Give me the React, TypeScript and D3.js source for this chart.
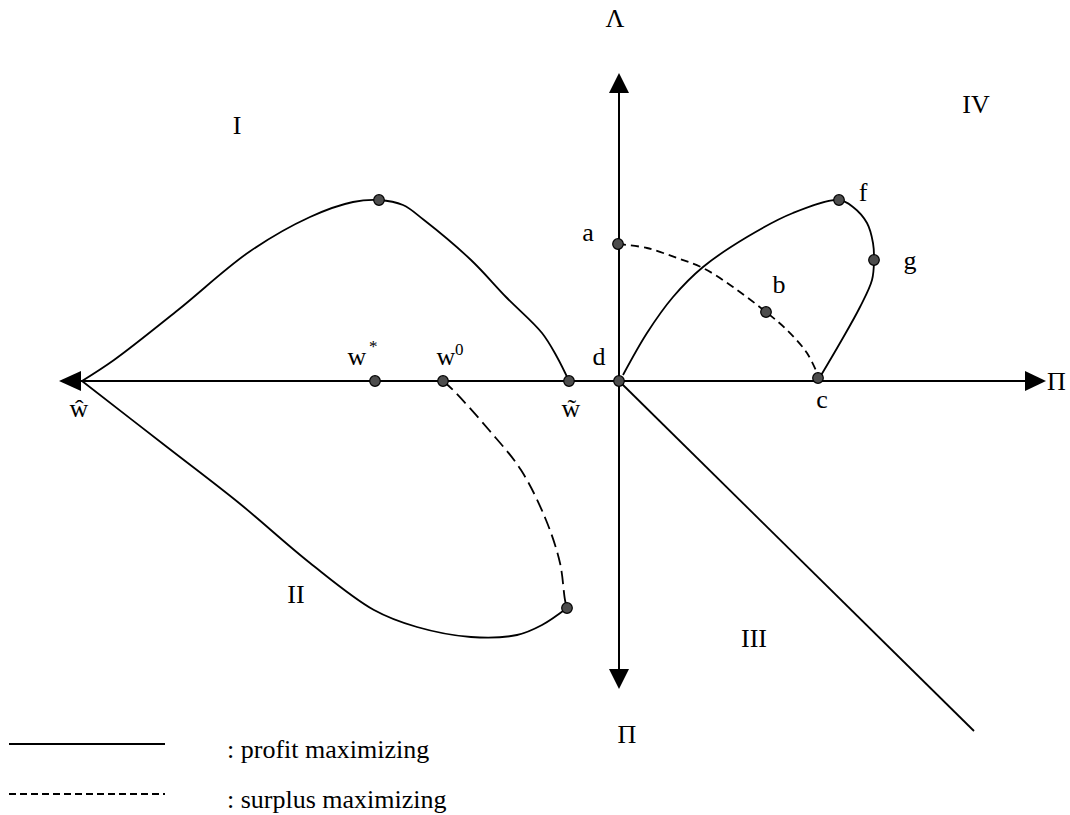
import React from "react";
import * as d3 from "d3";

// Diagram coordinates: origin at the intersection of the axes, y positive upward.
type P = [number, number];

const profitQuadI: P[] = [
  [-537, 0], [-505, 21], [-441, 71], [-370, 129], [-309, 164], [-266, 179], [-240, 181],
  [-216, 176], [-195, 161], [-148, 121], [-113, 84], [-77, 48], [-62, 24], [-50, 0],
];
const profitQuadII: P[] = [
  [-537, 0], [-452, -66], [-380, -122], [-309, -182], [-245, -229], [-202, -246],
  [-148, -256], [-102, -254], [-77, -244], [-52, -227],
];
const surplusQuadII: P[] = [
  [-176, 0], [-166, -9], [-130, -49], [-98, -89], [-73, -139], [-59, -182], [-54, -219], [-52, -227],
];
const profitQuadIV: P[] = [
  [4, 6], [28, 48], [54, 84], [84, 114], [128, 144], [174, 168], [220, 181], [234, 174],
  [248, 158], [254, 138], [255, 121], [253, 101], [241, 74], [221, 38], [201, 4],
];
const surplusQuadIV: P[] = [
  [-1, 137], [28, 133], [58, 123], [84, 113], [114, 94], [147, 69], [168, 51], [188, 28], [199, 6],
];
const profitQuadIII: P[] = [[0, 0], [355, -350]];

const markers: P[] = [
  [-240, 181], [-244, 0], [-176, 0], [-50, 0], [-52, -227], [0, 0],
  [-1, 137], [220, 181], [255, 121], [147, 69], [199, 3],
];

const labels: { t: string; x: number; y: number; anchor?: string }[] = [
  { t: "Λ", x: -4, y: 354 },
  { t: "I", x: -382, y: 247 },
  { t: "IV", x: 357, y: 268 },
  { t: "a", x: -31, y: 140 },
  { t: "f", x: 244, y: 180 },
  { t: "g", x: 291, y: 112 },
  { t: "b", x: 160, y: 88 },
  { t: "d", x: -20, y: 16 },
  { t: "c", x: 203, y: -27 },
  { t: "Π", x: 428, y: -9, anchor: "start" },
  { t: "\u0175", x: -540, y: -36 },
  { t: "w\u0303", x: -48, y: -36 },
  { t: "II", x: -323, y: -222 },
  { t: "III", x: 135, y: -266 },
  { t: "Π", x: 8, y: -362 },
];

const supLabels: { base: string; sup: string; x: number; y: number; dx: number; dy: number }[] = [
  { base: "w", sup: "*", x: -262, y: 16, dx: 12, dy: -13 },
  { base: "w", sup: "0", x: -173, y: 16, dx: 9, dy: -10 },
];

const legendItems = [
  { text: ": profit maximizing", dash: "none" },
  { text: ": surplus maximizing", dash: "7,4" },
];

const W = 1070;
const H = 815;

export default function App() {
  const x = d3.scaleLinear().domain([-560, 427]).range([59, 1046]);
  const y = d3.scaleLinear().domain([-308, 308]).range([689, 73]);
  const line = d3
    .line<P>()
    .x((d) => x(d[0]))
    .y((d) => y(d[1]))
    .curve(d3.curveCatmullRom.alpha(0.5));
  const straight = d3.line<P>().x((d) => x(d[0])).y((d) => y(d[1]));

  const x0 = x(0);
  const y0 = y(0);
  const font = "'Liberation Serif', 'Times New Roman', serif";
  const stroke = "#000";

  const arrowL = `M${x(-560)},${y0} L${x(-538)},${y0 - 10} L${x(-538)},${y0 + 10} Z`;
  const arrowR = `M${x(427)},${y0} L${x(406)},${y0 - 10} L${x(406)},${y0 + 10} Z`;
  const arrowU = `M${x0},${y(308)} L${x0 - 10},${y(288)} L${x0 + 10},${y(288)} Z`;
  const arrowD = `M${x0},${y(-308)} L${x0 - 10},${y(-288)} L${x0 + 10},${y(-288)} Z`;

  return (
    <svg
      width={W}
      height={H}
      style={{ position: "absolute", left: 0, top: 0, background: "#fff" }}
      fontFamily={font}
    >
      {/* axes */}
      <line x1={x(-538)} y1={y0} x2={x(406)} y2={y0} stroke={stroke} strokeWidth={2} />
      <line x1={x0} y1={y(288)} x2={x0} y2={y(-288)} stroke={stroke} strokeWidth={2} />
      <path d={arrowL} fill="#000" />
      <path d={arrowR} fill="#000" />
      <path d={arrowU} fill="#000" />
      <path d={arrowD} fill="#000" />

      {/* curves */}
      <path d={line(profitQuadI) || ""} fill="none" stroke={stroke} strokeWidth={1.8} />
      <path d={line(profitQuadII) || ""} fill="none" stroke={stroke} strokeWidth={1.8} />
      <path d={line(surplusQuadII) || ""} fill="none" stroke={stroke} strokeWidth={1.8} strokeDasharray="13,6" />
      <path d={line(profitQuadIV) || ""} fill="none" stroke={stroke} strokeWidth={1.8} />
      <path d={line(surplusQuadIV) || ""} fill="none" stroke={stroke} strokeWidth={1.8} strokeDasharray="8,5" />
      <path d={straight(profitQuadIII) || ""} fill="none" stroke={stroke} strokeWidth={1.8} />

      {/* markers */}
      {markers.map((m, i) => (
        <circle key={i} cx={x(m[0])} cy={y(m[1])} r={5.3} fill="#4d4d4d" stroke="#000" strokeWidth={1.2} />
      ))}

      {/* labels */}
      {labels.map((l, i) => (
        <text key={i} x={x(l.x)} y={y(l.y)} fontSize={26} textAnchor={l.anchor || "middle"} fill="#000">
          {l.t}
        </text>
      ))}
      {supLabels.map((l, i) => (
        <g key={i}>
          <text x={x(l.x)} y={y(l.y)} fontSize={26} textAnchor="middle" fill="#000">
            {l.base}
          </text>
          <text x={x(l.x) + l.dx} y={y(l.y) + l.dy} fontSize={17} textAnchor="start" fill="#000">
            {l.sup}
          </text>
        </g>
      ))}

      {/* legend */}
      {legendItems.map((it, i) => (
        <g key={i} transform={`translate(0, ${744 + i * 50})`}>
          <line x1={9} y1={0} x2={165} y2={0} stroke="#000" strokeWidth={2} strokeDasharray={it.dash} />
          <text x={227} y={14} fontSize={26} fill="#000">
            {it.text}
          </text>
        </g>
      ))}
    </svg>
  );
}
